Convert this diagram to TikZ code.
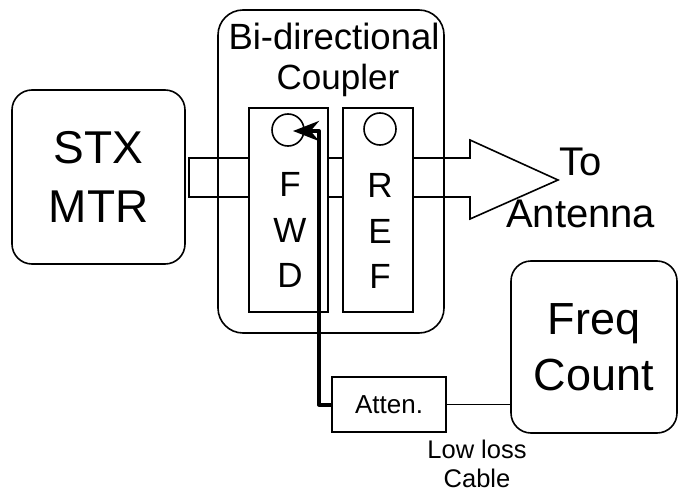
\documentclass[tikz,border=0pt]{standalone}
\usepackage{fontspec}
\setmainfont{Liberation Sans}
\usetikzlibrary{arrows.meta}
\tikzset{%
	unit/.style={draw,line width=1.6pt,rounded corners=20pt,inner sep=0pt,outer sep=0pt,align=center},
	slot/.style={draw,line width=1.6pt,inner sep=0pt,outer sep=0pt},
	port/.style={draw,circle,line width=1.6pt,minimum size=32pt,inner sep=0pt},
	pipe/.style={line width=1.6pt,line join=miter},
	probe/.style={line width=4pt,line join=round,-{Stealth[length=26pt,width=20pt]}},
	lbl/.style={inner sep=0pt,anchor=base},
}

\begin{document}
\begin{tikzpicture}[x=1pt,y=-1pt]
			\useasboundingbox (0,0) rectangle (679,492);
			
			%TRANSMITTER
			\node[unit, minimum width=173pt, minimum height=174pt, font=\fontsize{46}{59}\selectfont] (stx) at (98.5,177) {STX\\MTR};
			
			%COUPLER
			\node[unit, rounded corners=25pt, minimum width=226pt, minimum height=323pt] (coupler) at (331,171.5) {};
			\node[lbl, font=\fontsize{36.5}{40}\selectfont] (title) at (334,50) {Bi-directional};
			\node[lbl, font=\fontsize{35}{40}\selectfont] (subtitle) at (338,90) {Coupler};
			
			\node[slot, minimum width=79pt, minimum height=204pt] (fwd) at (288.5,210) {}; %FWD
			\node[port] (fwdport) at (288,130) {};
			\node[font=\fontsize{35}{45.5}\selectfont, align=center, inner sep=0pt] (fwdtxt) at (290,230) {F\\W\\D};
			
			\node[slot, minimum width=70pt, minimum height=204pt] (ref) at (378,210) {}; %REF
			\node[port] (refport) at (380,129) {};
			\node[font=\fontsize{35}{45.5}\selectfont, align=center, inner sep=0pt] (reftxt) at (380,231) {R\\E\\F};
			
			%LINE
			\draw[pipe] (fwd.west |- 0,158) -- (189,158) -- (189,197) -- (fwd.west |- 0,197);
			\draw[pipe] (fwd.east |- 0,158) -- (ref.west |- 0,158);
			\draw[pipe] (fwd.east |- 0,197) -- (ref.west |- 0,197);
			\coordinate (tip) at (558,180);
			\draw[pipe] (ref.east |- 0,158) -- (470,158) -- (470,140) -- (tip) -- (470,219) -- (470,197) -- (ref.east |- 0,197);
			\node[lbl, anchor=base west, font=\fontsize{40}{40}\selectfont] (to) at (559,175) {To};
			\node[lbl, anchor=base west, font=\fontsize{40}{40}\selectfont] (antenna) at (506,227) {Antenna};
			
			%SAMPLE
			\node[slot, minimum width=114pt, minimum height=55pt, font=\fontsize{26}{30}\selectfont] (atten) at (389,404.5) {Atten.};
			\node[unit, minimum width=166pt, minimum height=172pt, font=\fontsize{45}{56}\selectfont] (freq) at (594,347) {Freq\\Count};
			\draw[pipe] (atten.east) -- (freq.west |- atten.east);
			\node[lbl, font=\fontsize{25.5}{30}\selectfont] (lowloss) at (477,458) {Low loss};
			\node[lbl, font=\fontsize{25.5}{30}\selectfont] (cable) at (477,487) {Cable};
			
			\coordinate (bend) at (319,131);
			\coordinate (fwdtip) at (293,131);
			\draw[probe] (atten.west) -| (bend) -- (fwdtip);
			
\end{tikzpicture}
\end{document}
